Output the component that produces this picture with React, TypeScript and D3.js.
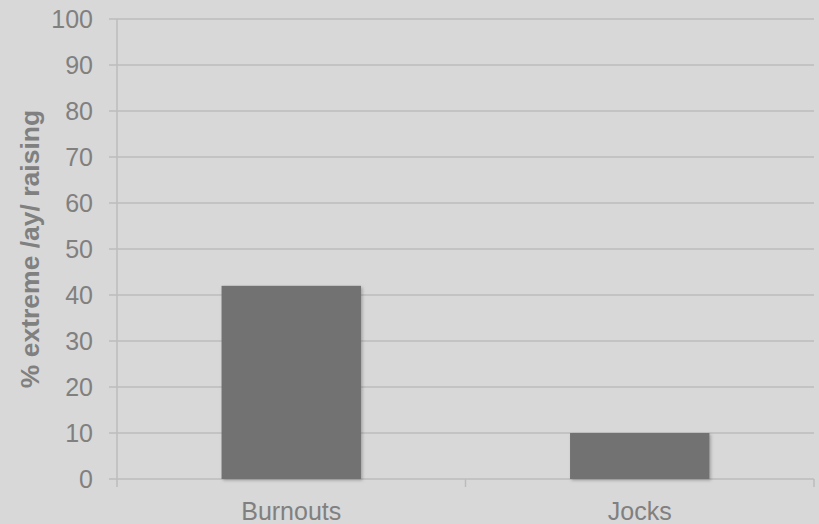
import React from "react";
import * as d3 from "d3";

const categories = ["Burnouts", "Jocks"];
const values = [42, 10];
const yTicks = [0, 10, 20, 30, 40, 50, 60, 70, 80, 90, 100];
const yTitle = "% extreme /ay/ raising";

const W = 819;
const H = 524;
const M = { left: 117, right: 5, top: 19, bottom: 45 };

export default function App() {
  const x = d3
    .scaleBand<string>()
    .domain(categories)
    .range([M.left, W - M.right])
    .paddingInner(0.6)
    .paddingOuter(0.3);
  const xOuter = d3.scaleBand<string>().domain(categories).range([M.left, W - M.right]);
  const y = d3.scaleLinear().domain([0, 100]).range([H - M.bottom, M.top]);
  const font = "'Liberation Sans', Arial, Helvetica, sans-serif";
  const grid = "#bcbcbc";
  const text = "#808080";
  const y0 = y(0);
  const bounds = [M.left, ...categories.map((c) => (xOuter(c) as number) + xOuter.bandwidth())];

  return (
    <svg
      width={W}
      height={H}
      style={{ position: "absolute", left: 0, top: 0, display: "block" }}
      fontFamily={font}
    >
      <defs>
        <filter id="shadow" x="-10%" y="-10%" width="120%" height="120%">
          <feDropShadow dx="1.5" dy="1.5" stdDeviation="1.5" floodColor="#000" floodOpacity="0.25" />
        </filter>
      </defs>
      <rect x={0} y={0} width={W} height={H} fill="#d8d8d8" />
      {yTicks.map((t) => (
        <g key={t}>
          <line x1={M.left - 8} x2={W - M.right} y1={y(t)} y2={y(t)} stroke={grid} strokeWidth={1.5} />
          <text
            x={M.left - 24}
            y={y(t)}
            textAnchor="end"
            dominantBaseline="central"
            fontSize={25}
            fill={text}
          >
            {t}
          </text>
        </g>
      ))}
      <line x1={M.left} x2={M.left} y1={M.top} y2={y0 + 8} stroke={grid} strokeWidth={1.5} />
      {bounds.slice(1).map((b, i) => (
        <line key={i} x1={b} x2={b} y1={y0} y2={y0 + 8} stroke={grid} strokeWidth={1.5} />
      ))}
      {categories.map((c, i) => (
        <rect
          key={c}
          x={x(c)}
          y={y(values[i])}
          width={x.bandwidth()}
          height={y0 - y(values[i])}
          fill="#727272"
          filter="url(#shadow)"
        />
      ))}
      {categories.map((c) => (
        <text
          key={c}
          x={(xOuter(c) as number) + xOuter.bandwidth() / 2}
          y={H - 4}
          textAnchor="middle"
          fontSize={25}
          fill={text}
        >
          {c}
        </text>
      ))}
      <text
        transform={`translate(39, ${(y(0) + y(100)) / 2}) rotate(-90)`}
        textAnchor="middle"
        fontSize={26.5}
        fontWeight="bold"
        fill={text}
      >
        {yTitle}
      </text>
    </svg>
  );
}
